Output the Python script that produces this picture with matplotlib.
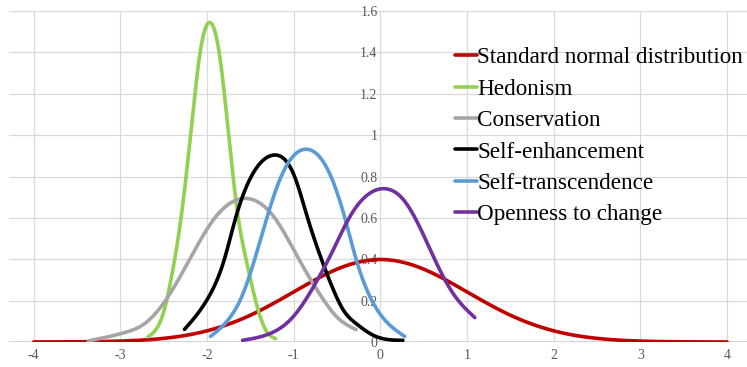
import numpy as np
import matplotlib
matplotlib.use("Agg")
import matplotlib.pyplot as plt

# ---------------- data ----------------
normal_x = [-4, -3.5, -3, -2.5, -2, -1.5, -1, -0.5, 0, 0.5, 1, 1.5, 2, 2.5, 3, 3.5, 4]
normal_y = [0.0001, 0.0009, 0.0044, 0.0175, 0.054, 0.1295, 0.242, 0.3521, 0.3989, 0.3521, 0.242,
            0.1295, 0.054, 0.0175, 0.0044, 0.0009, 0.0001]

hedonism_x = [-2.68, -2.49, -2.41, -2.30, -2.19, -2.08, -1.97, -1.86, -1.75, -1.64,
              -1.55, -1.44, -1.32, -1.21]
hedonism_y = [0.025, 0.16, 0.315, 0.60, 1.00, 1.40, 1.545, 1.40, 1.00, 0.60,
              0.40, 0.20, 0.056, 0.016]

conservation_x = [-3.37, -2.93, -2.77, -2.48, -2.20, -1.91, -1.57, -1.22, -0.94, -0.65,
                  -0.50, -0.28]
conservation_y = [0.005, 0.048, 0.075, 0.20, 0.40, 0.60, 0.694, 0.60, 0.40, 0.20,
                  0.12, 0.06]

selfenh_x = [-2.26, -1.97, -1.80, -1.67, -1.49, -1.24, -0.99, -0.84, -0.68, -0.54,
             -0.43, -0.28, -0.08, 0.26]
selfenh_y = [0.061, 0.226, 0.40, 0.60, 0.80, 0.903, 0.80, 0.60, 0.40, 0.25,
             0.156, 0.089, 0.032, 0.008]

selftr_x = [-1.96, -1.68, -1.62, -1.45, -1.31, -1.145, -0.857, -0.57, -0.41, -0.28,
            -0.11, 0.28]
selftr_y = [0.027, 0.153, 0.20, 0.40, 0.60, 0.80, 0.932, 0.80, 0.60, 0.40,
            0.21, 0.027]

openness_x = [-1.59, -1.29, -1.00, -0.74, -0.55, -0.36, -0.18, 0.05, 0.24, 0.40, 0.65, 0.84, 1.09]
openness_y = [0.008, 0.038, 0.125, 0.29, 0.44, 0.60, 0.70, 0.741, 0.70, 0.60, 0.379, 0.234, 0.118]

series_names = ["Standard normal distribution", "Hedonism", "Conservation", "Self-enhancement",
                "Self-transcendence", "Openness to change"]
series_colors = ["#C00000", "#92D050", "#A5A5A5", "#000000", "#5B9BD5", "#7030A0"]

x_ticks = [-4, -3, -2, -1, 0, 1, 2, 3, 4]
x_tick_labels = ["-4", "-3", "-2", "-1", "0", "1", "2", "3", "4"]
y_ticks = [0, 0.2, 0.4, 0.6, 0.8, 1.0, 1.2, 1.4, 1.6]
y_tick_labels = ["0", "0.2", "0.4", "0.6", "0.8", "1", "1.2", "1.4", "1.6"]


# ---------------- smoothed-line rendering (natural cubic spline through the points) ----------------
def smooth(xs, ys, n=30):
    x = np.asarray(xs, float)
    y = np.asarray(ys, float)
    k = len(x)
    h = np.diff(x)
    A = np.zeros((k, k))
    b = np.zeros(k)
    A[0, 0] = A[-1, -1] = 1.0
    for i in range(1, k - 1):
        A[i, i - 1] = h[i - 1]
        A[i, i] = 2 * (h[i - 1] + h[i])
        A[i, i + 1] = h[i]
        b[i] = 6 * ((y[i + 1] - y[i]) / h[i] - (y[i] - y[i - 1]) / h[i - 1])
    M = np.linalg.solve(A, b)
    X, Y = [], []
    for i in range(k - 1):
        t = np.linspace(x[i], x[i + 1], n)
        if i > 0:
            t = t[1:]
        a = (x[i + 1] - t) / h[i]
        c = (t - x[i]) / h[i]
        yy = (a * y[i] + c * y[i + 1]
              + ((a**3 - a) * M[i] + (c**3 - c) * M[i + 1]) * h[i] ** 2 / 6)
        X.append(t)
        Y.append(yy)
    return np.concatenate(X), np.maximum(np.concatenate(Y), 0.0)


# ---------------- figure ----------------
W, H = 747, 367
fig = plt.figure(figsize=(W / 100, H / 100), dpi=100)
ax = fig.add_axes([9 / W, 1 - 342 / H, (747 - 9) / W, (342 - 11) / H])

ax.set_xlim(-4.285, 4.23)
ax.set_ylim(0, 1.6)

grid_c = "#D9D9D9"
for xv in x_ticks:
    ax.axvline(xv, color=grid_c, lw=0.9, zorder=0)
for yv in y_ticks:
    ax.axhline(yv, color=grid_c, lw=0.9, zorder=0)
ax.axhline(0, color="#CFCFCF", lw=1.3, zorder=1)

all_x = [normal_x, hedonism_x, conservation_x, selfenh_x, selftr_x, openness_x]
all_y = [normal_y, hedonism_y, conservation_y, selfenh_y, selftr_y, openness_y]
for i, (xs, ys) in enumerate(zip(all_x, all_y)):
    sx, sy = smooth(xs, ys)
    ax.plot(sx, sy, color=series_colors[i], lw=2.6, solid_capstyle="round",
            solid_joinstyle="round", label=series_names[i], zorder=2 + i)

for s in ["top", "right", "bottom"]:
    ax.spines[s].set_visible(False)
ax.spines["left"].set_position(("data", 0))
ax.spines["left"].set_visible(False)

tick_font = dict(family="Liberation Serif", size=10)
ax.set_xticks(x_ticks)
ax.set_xticklabels(x_tick_labels, **tick_font, color="#595959")
ax.set_yticks(y_ticks)
ax.set_yticklabels(y_tick_labels, **tick_font, color="#595959")
ax.tick_params(axis="both", length=0)
ax.tick_params(axis="x", pad=5)
ax.tick_params(axis="y", pad=2)

leg = ax.legend(loc="upper left", bbox_to_anchor=(455 / W, 1 - 47 / H), bbox_transform=fig.transFigure,
                frameon=False, prop=dict(family="Liberation Serif", size=16.7),
                handlelength=0.95, handletextpad=0.0, borderpad=0, borderaxespad=0,
                labelspacing=0.44)
for line in leg.get_lines():
    line.set_linewidth(2.6)

fig.savefig("out.png", dpi=100)
